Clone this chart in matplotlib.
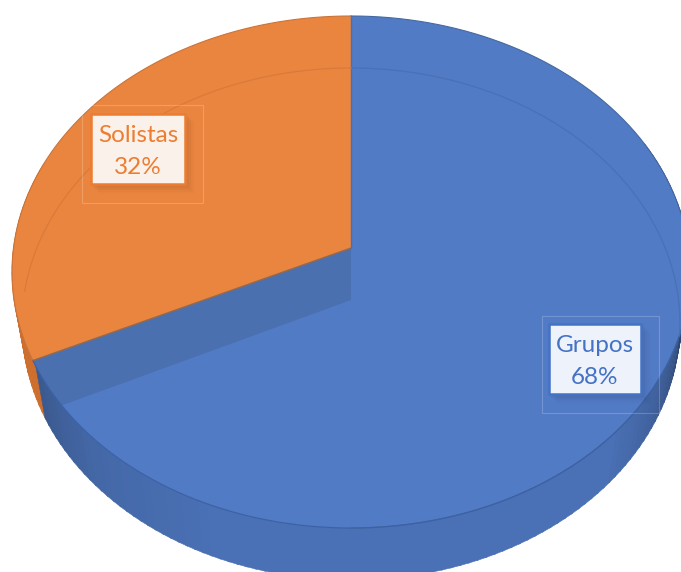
import numpy as np
import matplotlib
matplotlib.use('Agg')
import matplotlib.pyplot as plt
from matplotlib.patches import Polygon, Rectangle
from matplotlib.transforms import Transform

categories = ['Grupos', 'Solistas']
shares = [68, 32]
top_colors = ['#527bc6', '#ea853f']
edge_colors = ['#4472c4', '#ed7d31']
box_fills = ['#edf2fb', '#faf1eb']


class Perspective(Transform):
    # maps the unit pie on to pixels, tilted so the near half looks bigger
    input_dims = 2
    output_dims = 2

    def __init__(self, x0, y0, rx, k=253.75, b=0.09375):
        super().__init__()
        self.x0, self.y0, self.k, self.b = x0, y0, k, b
        self.m = rx * np.sqrt(1 - b ** 2)

    def transform_non_affine(self, values):
        values = np.asarray(values, dtype=float)
        d = 1 + self.b * values[:, 1]
        return np.column_stack([self.x0 + self.m * values[:, 0] / d,
                                self.y0 - self.k * values[:, 1] / d])


top = Perspective(351, 248, 339)
bottom = Perspective(351, 300, 329)


def circle(deg):
    t = np.radians(deg)
    return np.column_stack([np.cos(t), np.sin(t)])


fig = plt.figure(figsize=(6.81, 5.72), dpi=100)
ax = fig.add_axes([0, 0, 1, 1])

# angle where the two slices meet at the front left
split = 90 + 360 * shares[1] / sum(shares)

# side wall, in thin strips for the shading
wall_angles = np.arange(160, 384, 1.5)
for a in wall_angles:
    if a < split:
        c = np.array([205, 110, 45]) / 255
    else:
        f = np.interp(a, [split, split + 18, 250, 315, 330, 345, 360, 384], [0.72, 0.85, 0.93, 0.93, 0.8, 0.62, 0.42, 0.3])
        c = np.array([80, 122, 196]) / 255 * f
    pts = np.array([a, a + 1.8])
    ring = np.vstack([top.transform(circle(pts)), bottom.transform(circle(pts[::-1]))])
    ax.add_patch(Polygon(ring, closed=True, fc=c, ec=c, lw=0.4, zorder=1))

# top face
wedges, _ = ax.pie(shares, colors=top_colors, startangle=90, counterclock=False)
for w in wedges:
    w.set_transform(top + ax.transData)
    w.set_zorder(2)
    w.set_linewidth(0)

# cut face of the blue slice seen under the orange one
pts = circle([split])
cut = np.vstack([top.transform([[0, 0]]), bottom.transform([[0, 0]]),
                 bottom.transform(pts), top.transform(pts)])
cut_face = Polygon(cut, closed=True, fc='#4b70b0', ec='none', zorder=3)
ax.add_patch(cut_face)
cut_face.set_clip_path(wedges[0])

# rim lines
arc = top.transform(circle(np.linspace(split, 352, 200)))
ax.plot(arc[:, 0], arc[:, 1], color='#3c62a6', lw=0.9, zorder=4)
arc = top.transform(circle(np.linspace(-90, 90, 200)))
ax.plot(arc[:, 0], arc[:, 1], color='#44689f', lw=0.8, zorder=2.5)
arc = top.transform(circle(np.linspace(90, split, 120)))
ax.plot(arc[:, 0], arc[:, 1], color='#c8743a', lw=0.8, zorder=2.5)
ax.plot([top.x0, top.transform(pts)[0, 0]], [top.y0, top.transform(pts)[0, 1]], color='#96694a', lw=1, zorder=4)
ax.plot([top.x0, top.x0], [16, 248], color='#4a6fb5', lw=1, zorder=4)

# the back edge of the base shows faintly through the top face
arc = bottom.transform(circle(np.linspace(-8, 90, 150)))
ax.plot(arc[:, 0], arc[:, 1], color='#4a70b6', lw=0.9, zorder=4)
arc = bottom.transform(circle(np.linspace(90, 178, 150)))
ax.plot(arc[:, 0], arc[:, 1], color='#d97a3b', lw=0.9, zorder=4)

# data labels: (box x0, y0, x1, y1), (outer frame), text y
boxes = [(549, 324, 641, 394), (91, 114, 185, 184)]
frames = [(542, 316, 659, 413), (82, 105, 203, 203)]
text_ys = [(345, 378), (135, 167)]
for i, cat in enumerate(categories):
    x0, y0, x1, y1 = boxes[i]
    fx0, fy0, fx1, fy1 = frames[i]
    ax.add_patch(Rectangle((fx0, fy0), fx1 - fx0, fy1 - fy0, fc='none', ec='white', alpha=0.2, lw=0.8, zorder=5))
    for off, al in [(10, 0.012), (8, 0.018), (6, 0.024), (4, 0.03), (2, 0.03)]:
        ax.add_patch(Rectangle((x0 + off - 2, y0 + off - 2), x1 - x0 + 2, y1 - y0 + 2, fc='black', ec='none', alpha=al, zorder=5))
    ax.add_patch(Rectangle((x0, y0), x1 - x0, y1 - y0, fc=box_fills[i], ec=edge_colors[i], lw=1.8, zorder=6))
    cx = (x0 + x1) / 2
    ax.text(cx, text_ys[i][0], cat, color=edge_colors[i], fontsize=17.5, family='Lato', ha='center', va='center', zorder=7)
    ax.text(cx, text_ys[i][1], str(shares[i]) + '%', color=edge_colors[i], fontsize=17.5, family='Lato', ha='center', va='center', zorder=7)

ax.set_aspect('auto')
ax.set_xlim(0, 681)
ax.set_ylim(572, 0)
ax.axis('off')
fig.savefig('out.png', dpi=100)
